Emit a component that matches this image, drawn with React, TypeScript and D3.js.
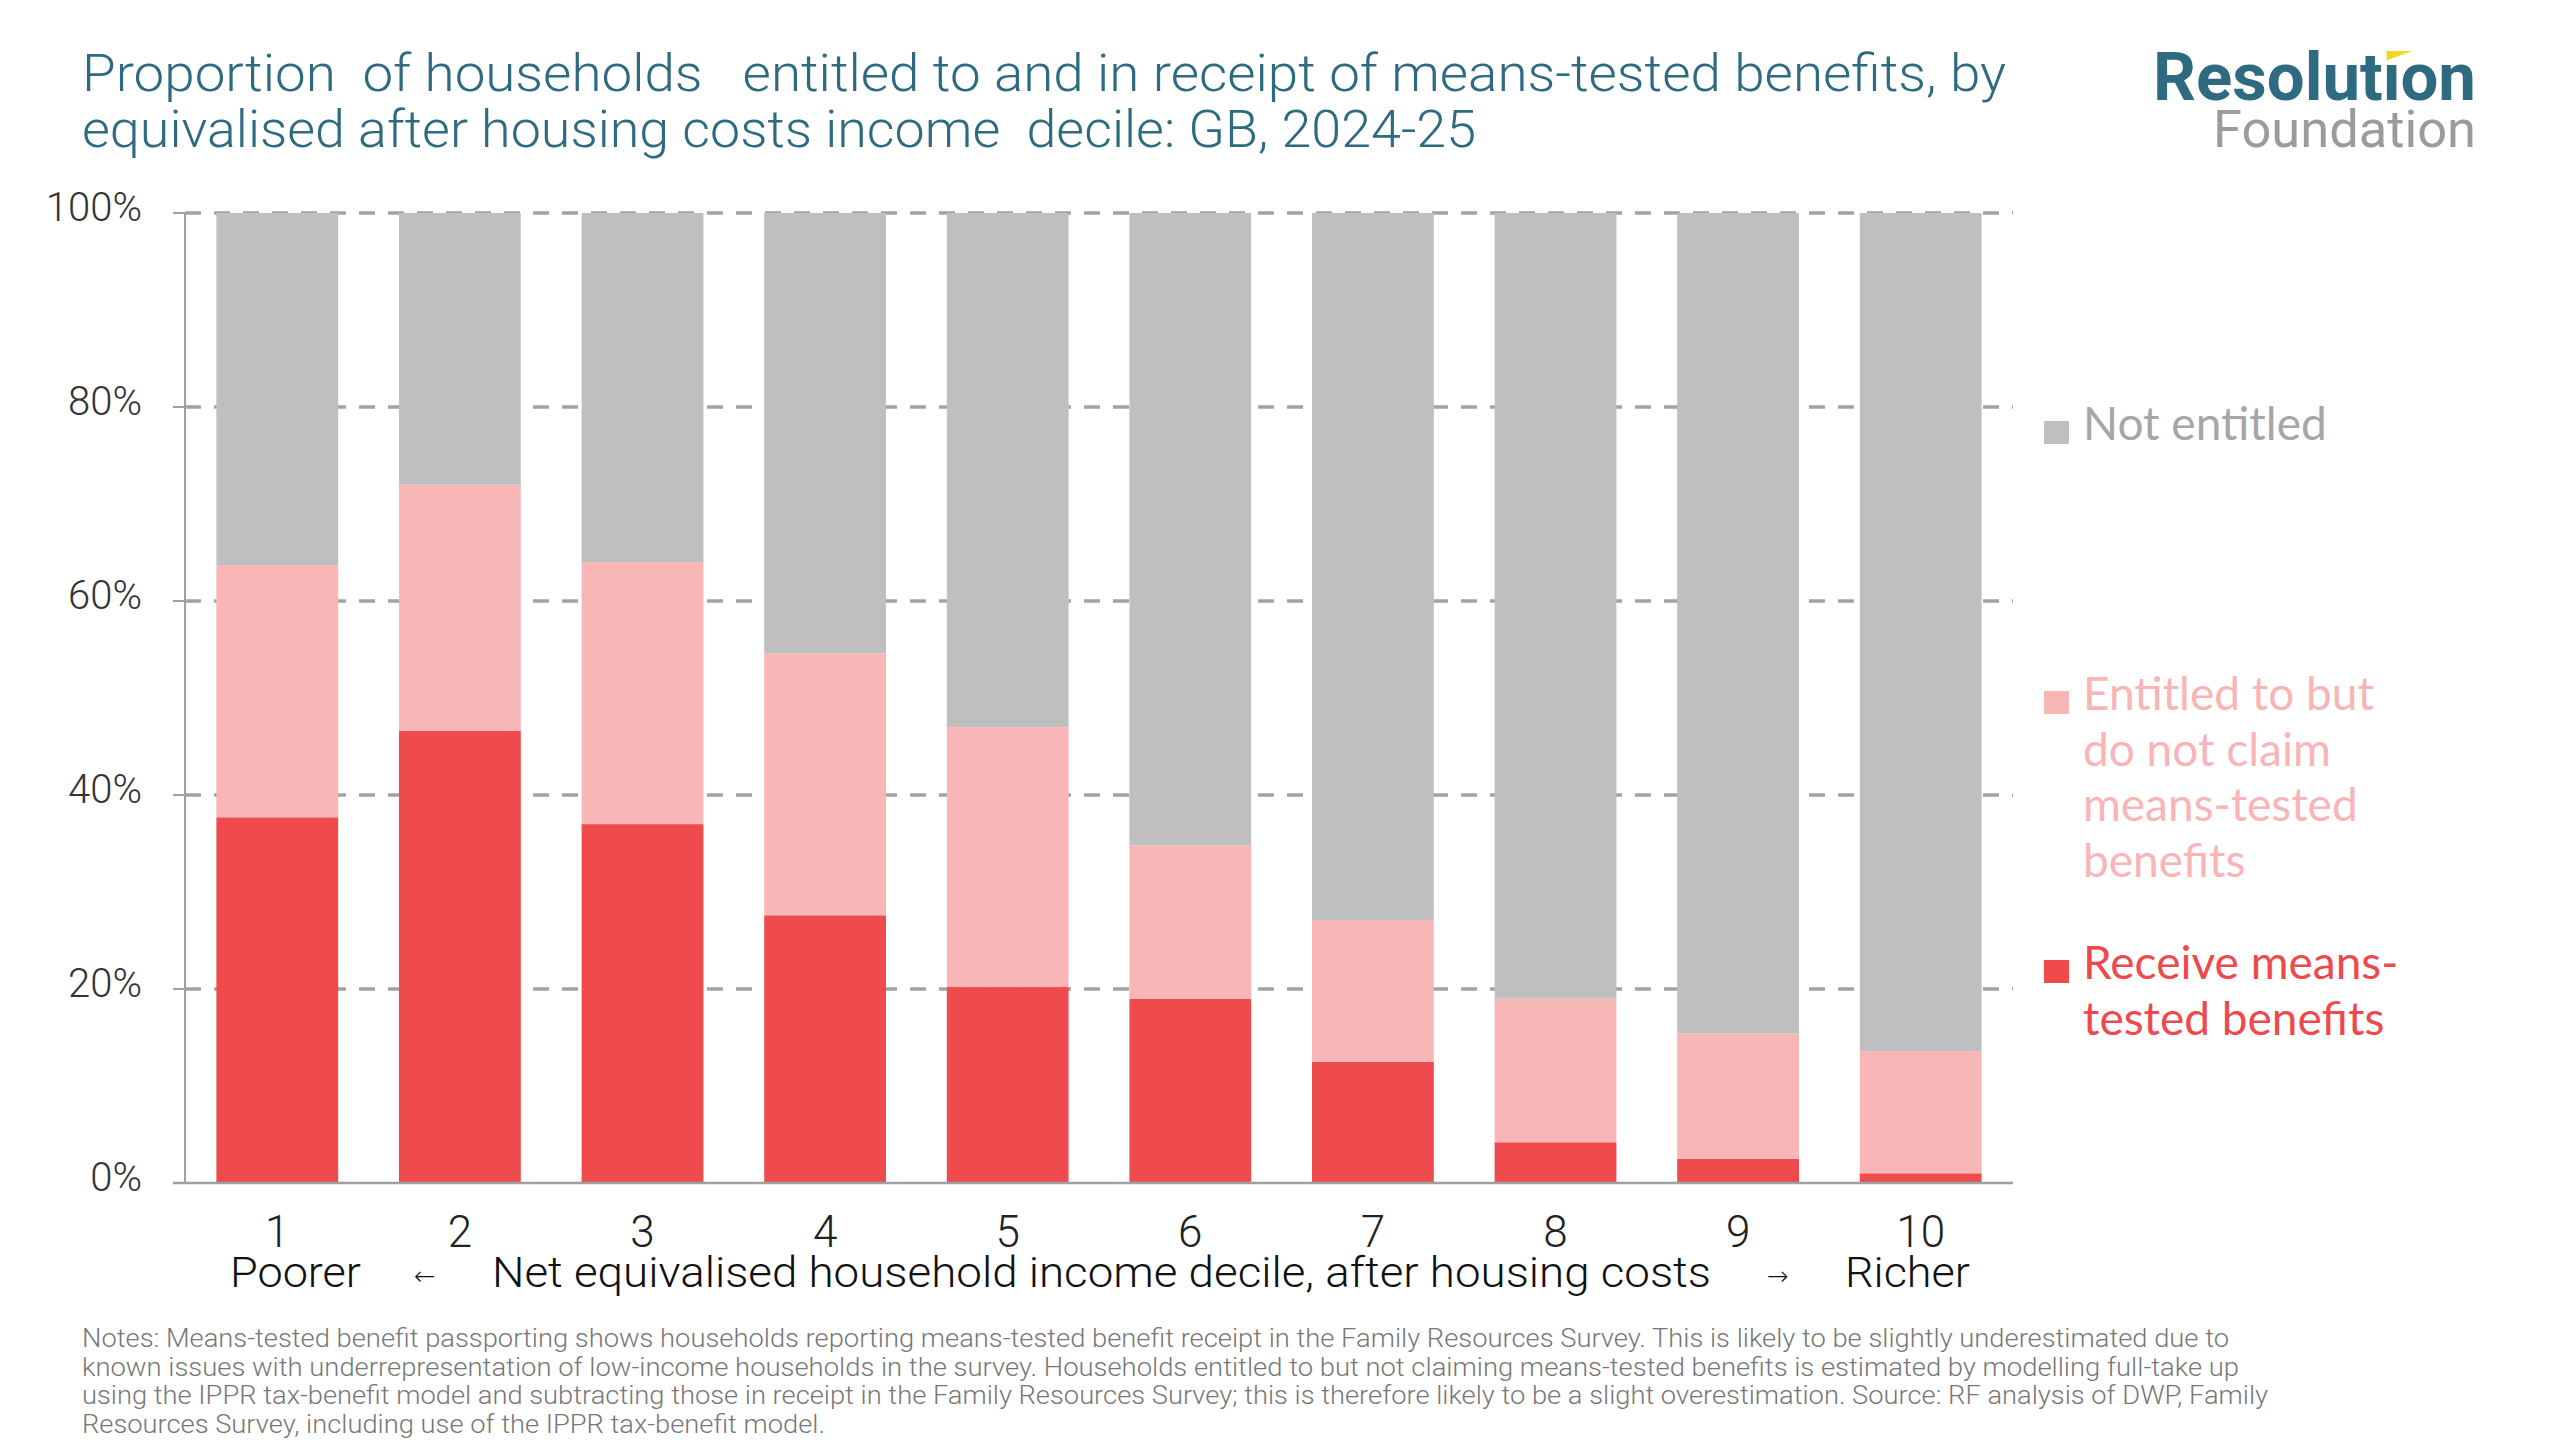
import React, { useLayoutEffect, useRef, useState } from "react";
import * as d3 from "d3";

// ---------- data ----------
const categories = ["1", "2", "3", "4", "5", "6", "7", "8", "9", "10"];
const receive = [37.7, 46.6, 37.0, 27.6, 20.2, 19.0, 12.5, 4.2, 2.5, 1.0];
const entitledNotClaim = [26.0, 25.4, 27.0, 27.0, 26.8, 15.8, 14.6, 14.8, 12.9, 12.6];
const notEntitled = [36.3, 28.0, 36.0, 45.4, 53.0, 65.2, 72.9, 81.0, 84.6, 86.4];
const yTicks = [0, 20, 40, 60, 80, 100];

const seriesKeys = ["receive", "entitled", "notEntitled"];
const seriesColors: Record<string, string> = {
  receive: "#EF4A4C",
  entitled: "#F8B6B7",
  notEntitled: "#BFBFBF",
};
const legendTextColors: Record<string, string> = {
  receive: "#EE4A4D",
  entitled: "#F9B4B6",
  notEntitled: "#A6A6A6",
};
const legendItems = [
  { key: "notEntitled", lines: ["Not entitled"], baseline: 440 },
  { key: "entitled", lines: ["Entitled to but", "do not claim", "means-tested", "benefits"], baseline: 710 },
  { key: "receive", lines: ["Receive means-", "tested benefits"], baseline: 979 },
];

const titleLines = [
  "Proportion  of households   entitled to and in receipt of means-tested benefits, by",
  "equivalised after housing costs income  decile: GB, 2024-25",
];
const titleLengths = [1924, 1394];
const noteLines = [
  "Notes: Means-tested benefit passporting shows households reporting means-tested benefit receipt in the Family Resources Survey. This is likely to be slightly underestimated due to",
  "known issues with underrepresentation of low-income households in the survey. Households entitled to but not claiming means-tested benefits is estimated by modelling full-take up",
  "using the IPPR tax-benefit model and subtracting those in receipt in the Family Resources Survey; this is therefore likely to be a slight overestimation. Source: RF analysis of DWP, Family",
  "Resources Survey, including use of the IPPR tax-benefit model.",
];
const noteLengths = [2147, 2157, 2186, 743];
const axisTitle = {
  left: "Poorer",
  right: "Richer",
  middle: "Net equivalised household income decile, after housing costs",
};

const rows = categories.map((c, i) => ({
  cat: c,
  receive: receive[i],
  entitled: entitledNotClaim[i],
  notEntitled: notEntitled[i],
}));

const W = 2560;
const H = 1440;
const X0 = 185;
const X1 = 2013;
const Y0 = 1183;
const Y1 = 213;

const TEAL = "#2E6B80";
const SANS = "Roboto, 'Noto Sans', sans-serif";

function Logo() {
  const ref = useRef<SVGTextElement | null>(null);
  const [iBox, setIBox] = useState<{ x: number; w: number } | null>(null);
  useLayoutEffect(() => {
    const el = ref.current;
    if (!el) return;
    try {
      const r = el.getExtentOfChar(7);
      setIBox({ x: r.x, w: r.width });
    } catch (e) {
      setIBox(null);
    }
  }, []);
  const cx = iBox ? iBox.x + iBox.w / 2 : 2394;
  const stemLeft = cx - 5;
  return (
    <g>
      <text
        ref={ref}
        x={2153}
        y={100}
        fontFamily={SANS}
        fontWeight={700}
        fontSize={67}
        fill={TEAL}
        textLength={323}
        lengthAdjust="spacingAndGlyphs"
      >
        Resolution
      </text>
      {iBox && (
        <rect x={iBox.x - 1} y={36} width={iBox.w + 2} height={25.5} fill="#ffffff" />
      )}
      <polygon
        points={`${stemLeft},51 ${stemLeft + 25},51 ${stemLeft},60.5`}
        fill="#F4D81C"
      />
      <text
        x={2213}
        y={147}
        fontFamily={SANS}
        fontWeight={400}
        fontSize={52}
        fill="#9B9B9B"
        textLength={263}
        lengthAdjust="spacingAndGlyphs"
      >
        Foundation
      </text>
    </g>
  );
}

export default function App() {
  const x = d3
    .scaleBand<string>()
    .domain(categories)
    .range([X0, X1])
    .paddingInner(0.333)
    .paddingOuter(0.172);
  const y = d3.scaleLinear().domain([0, 100]).range([Y0, Y1]);

  const stacked = d3.stack<any>().keys(seriesKeys)(rows);

  return (
    <div style={{ position: "absolute", left: 0, top: 0, width: W, height: H, background: "#fff" }}>
      <svg width={W} height={H} viewBox={`0 0 ${W} ${H}`} style={{ display: "block" }}>
        <rect x={0} y={0} width={W} height={H} fill="#ffffff" />

        {/* title */}
        {titleLines.map((t, i) => (
          <text
            key={i}
            x={82}
            y={91 + i * 56}
            fontFamily={SANS}
            fontWeight={300}
            fontSize={52}
            fill={TEAL}
            xmlSpace="preserve"
            style={{ whiteSpace: "pre" }}
            textLength={titleLengths[i]}
            lengthAdjust="spacingAndGlyphs"
          >
            {t}
          </text>
        ))}

        <Logo />

        {/* gridlines */}
        {yTicks
          .filter((t) => t > 0)
          .map((t) => (
            <line
              key={t}
              x1={X0}
              x2={X1}
              y1={y(t)}
              y2={y(t)}
              stroke="#A3A3A3"
              strokeWidth={3.5}
              strokeDasharray="16,13"
            />
          ))}

        {/* bars */}
        {stacked.map((s) => (
          <g key={s.key} fill={seriesColors[s.key]}>
            {s.map((d: any) => (
              <rect
                key={d.data.cat}
                x={x(d.data.cat)}
                y={y(d[1])}
                width={x.bandwidth()}
                height={y(d[0]) - y(d[1])}
              />
            ))}
          </g>
        ))}

        {/* y axis */}
        <line x1={X0} x2={X0} y1={Y1} y2={Y0} stroke="#A0A0A0" strokeWidth={2} />
        {yTicks.map((t) => (
          <g key={t}>
            <line x1={X0 - 12} x2={X0} y1={y(t)} y2={y(t)} stroke="#A0A0A0" strokeWidth={2} />
            <text
              x={142}
              y={y(t) + 8}
              textAnchor="end"
              fontFamily={SANS}
              fontWeight={300}
              fontSize={40}
              fill="#333333"
            >
              {`${t}%`}
            </text>
          </g>
        ))}
        {/* x axis baseline */}
        <line x1={X0 - 12} x2={X1} y1={Y0} y2={Y0} stroke="#A0A0A0" strokeWidth={2.5} />

        {/* x tick labels */}
        {categories.map((c) => (
          <text
            key={c}
            x={(x(c) as number) + x.bandwidth() / 2}
            y={1247}
            textAnchor="middle"
            fontFamily={SANS}
            fontWeight={300}
            fontSize={44}
            fill="#222222"
          >
            {c}
          </text>
        ))}

        {/* x axis title */}
        <g fontFamily={SANS} fontWeight={300} fontSize={42} fill="#111111">
          <text x={230} y={1287} textLength={131} lengthAdjust="spacingAndGlyphs">
            {axisTitle.left}
          </text>
          <text x={425} y={1285} textAnchor="middle" fontSize={26} fontFamily="'DejaVu Sans', sans-serif">
            ←
          </text>
          <text x={492} y={1287} textLength={1219} lengthAdjust="spacingAndGlyphs">
            {axisTitle.middle}
          </text>
          <text x={1778} y={1285} textAnchor="middle" fontSize={26} fontFamily="'DejaVu Sans', sans-serif">
            →
          </text>
          <text x={1845} y={1287} textLength={125} lengthAdjust="spacingAndGlyphs">
            {axisTitle.right}
          </text>
        </g>

        {/* legend */}
        {legendItems.map((it) => (
          <g key={it.key}>
            <rect x={2044} y={it.baseline - 19} width={25} height={23} fill={seriesColors[it.key]} />
            {it.lines.map((ln, j) => (
              <text
                key={j}
                x={2083}
                y={it.baseline + j * 55.5}
                fontFamily="Lato, 'Open Sans', sans-serif"
                fontWeight={400}
                fontSize={46}
                fill={legendTextColors[it.key]}
              >
                {ln}
              </text>
            ))}
          </g>
        ))}

        {/* notes */}
        {noteLines.map((ln, i) => (
          <text
            key={i}
            x={82}
            y={1347 + i * 28.5}
            fontFamily={SANS}
            fontWeight={300}
            fontSize={26}
            fill="#777777"
            textLength={noteLengths[i]}
            lengthAdjust="spacingAndGlyphs"
          >
            {ln}
          </text>
        ))}
      </svg>
    </div>
  );
}
